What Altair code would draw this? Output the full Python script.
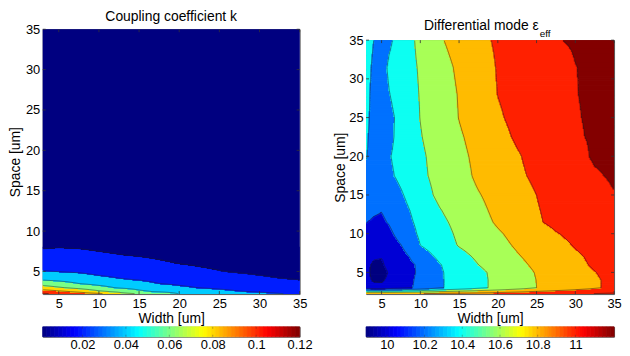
import numpy as np
import pandas as pd
import altair as alt

FONT = "Liberation Sans"

# ---------------- Left panel: coupling coefficient k (one list per width) ----
K_SPACE = [2.2, 2.5, 3, 3.5, 4, 5, 6, 7, 8, 10, 15, 20, 25, 30, 35]
K_WIDTH = [3, 5, 7.5, 10, 12.5, 15, 17.5, 20, 22.5, 25, 27.5, 30, 32.5, 35]
k_w03_0 = [0.125, 0.111, 0.089, 0.072, 0.058, 0.041, 0.031, 0.024, 0.019, 0.012, 0.005, 0.003, 0.0022, 0.0019, 0.0017]
k_w05_0 = [0.1195, 0.105, 0.082, 0.067, 0.056, 0.0395, 0.031, 0.0245, 0.0197, 0.013, 0.0052, 0.003, 0.0022, 0.0019, 0.0017]
k_w07_5 = [0.1125, 0.097, 0.0743, 0.060, 0.053, 0.0375, 0.0295, 0.0235, 0.0193, 0.0125, 0.005, 0.003, 0.0022, 0.0019, 0.0017]
k_w10_0 = [0.108, 0.084, 0.066, 0.055, 0.046, 0.034, 0.0275, 0.022, 0.018, 0.0118, 0.0048, 0.0029, 0.0022, 0.0019, 0.0017]
k_w12_5 = [0.088, 0.077, 0.058, 0.051, 0.0415, 0.0325, 0.026, 0.0205, 0.0168, 0.011, 0.0046, 0.0028, 0.0022, 0.0019, 0.0017]
k_w15_0 = [0.082, 0.064, 0.054, 0.046, 0.039, 0.031, 0.0245, 0.0193, 0.0158, 0.0104, 0.0044, 0.0027, 0.0021, 0.0019, 0.0017]
k_w17_5 = [0.078, 0.058, 0.049, 0.040, 0.035, 0.028, 0.022, 0.0178, 0.0147, 0.0098, 0.0042, 0.0026, 0.0021, 0.0018, 0.0017]
k_w20_0 = [0.0605, 0.053, 0.0435, 0.037, 0.0325, 0.026, 0.0198, 0.0163, 0.0136, 0.0092, 0.0040, 0.0025, 0.0020, 0.0018, 0.0017]
k_w22_5 = [0.056, 0.049, 0.0395, 0.034, 0.030, 0.0228, 0.0182, 0.0151, 0.0127, 0.0087, 0.0038, 0.0024, 0.0020, 0.0018, 0.0017]
k_w25_0 = [0.052, 0.045, 0.037, 0.032, 0.0275, 0.0205, 0.017, 0.0141, 0.0119, 0.0082, 0.0036, 0.0023, 0.0019, 0.0018, 0.0017]
k_w27_5 = [0.048, 0.041, 0.0345, 0.030, 0.0255, 0.0188, 0.016, 0.0133, 0.0113, 0.0078, 0.0034, 0.0022, 0.0019, 0.0018, 0.0017]
k_w30_0 = [0.045, 0.0385, 0.0325, 0.0275, 0.0225, 0.0178, 0.0151, 0.0126, 0.0107, 0.0074, 0.0033, 0.0022, 0.0019, 0.0018, 0.0017]
k_w32_5 = [0.0415, 0.036, 0.0305, 0.025, 0.0208, 0.0168, 0.0143, 0.012, 0.0102, 0.0071, 0.0032, 0.0021, 0.0019, 0.0018, 0.0017]
k_w35_0 = [0.0395, 0.034, 0.0285, 0.0235, 0.0198, 0.0158, 0.0135, 0.0114, 0.0097, 0.0068, 0.0031, 0.0021, 0.0019, 0.0018, 0.0017]
K_LEVELS = [0.02, 0.04, 0.06, 0.08, 0.1, 0.12]
K_CLIM = [0.0017, 0.12]
K_TICKS = [0.02, 0.04, 0.06, 0.08, 0.1, 0.12]

# ---------------- Right panel: differential mode eps_eff (one list per space) -
EPS_WIDTH = [3, 4, 5, 6, 7.5, 10, 12.5, 15, 17.5, 20, 22.5, 25, 27.5, 30, 32.5, 35]
EPS_SPACE = [2.2, 3, 4, 5, 6, 7, 8.5, 10, 11.5, 13, 15, 17.5, 20, 22.5, 25, 28, 31.5, 35]
eps_s02_2 = [11.03, 11.03, 11.04, 11.04, 11.05, 11.06, 11.08, 11.09, 11.11, 11.12, 11.14, 11.16, 11.18, 11.20, 11.22, 11.24]
eps_s03_0 = [10.10, 10.08, 10.07, 10.10, 10.14, 10.24, 10.38, 10.47, 10.56, 10.64, 10.72, 10.80, 10.86, 10.92, 10.98, 11.04]
eps_s04_0 = [10.06, 9.98, 9.97, 10.06, 10.12, 10.24, 10.38, 10.47, 10.56, 10.64, 10.72, 10.802, 10.86, 10.92, 10.98, 11.04]
eps_s05_0 = [10.07, 9.93, 9.89, 10.03, 10.11, 10.23, 10.38, 10.475, 10.56, 10.65, 10.73, 10.81, 10.87, 10.93, 10.995, 11.05]
eps_s06_0 = [10.05, 9.97, 9.96, 10.09, 10.12, 10.23, 10.39, 10.50, 10.60, 10.68, 10.76, 10.83, 10.90, 10.96, 11.02, 11.06]
eps_s07_0 = [10.08, 10.02, 10.01, 10.06, 10.13, 10.29, 10.44, 10.54, 10.63, 10.71, 10.785, 10.85, 10.91, 10.975, 11.03, 11.07]
eps_s08_5 = [10.10, 10.07, 10.05, 10.11, 10.195, 10.40, 10.51, 10.61, 10.68, 10.75, 10.82, 10.88, 10.95, 11.01, 11.06, 11.10]
eps_s10_0 = [10.13, 10.11, 10.10, 10.16, 10.27, 10.43, 10.53, 10.63, 10.71, 10.78, 10.85, 10.91, 10.99, 11.04, 11.09, 11.13]
eps_s11_5 = [10.205, 10.18, 10.17, 10.215, 10.32, 10.445, 10.56, 10.65, 10.74, 10.82, 10.90, 10.98, 11.04, 11.08, 11.12, 11.16]
eps_s13_0 = [10.24, 10.22, 10.205, 10.25, 10.34, 10.47, 10.59, 10.68, 10.76, 10.84, 10.92, 10.99, 11.04, 11.08, 11.13, 11.17]
eps_s15_0 = [10.30, 10.28, 10.27, 10.30, 10.38, 10.52, 10.64, 10.72, 10.79, 10.86, 10.93, 11.00, 11.05, 11.10, 11.15, 11.195]
eps_s17_5 = [10.37, 10.33, 10.31, 10.37, 10.44, 10.56, 10.66, 10.74, 10.83, 10.90, 10.97, 11.03, 11.08, 11.13, 11.185, 11.215]
eps_s20_0 = [10.41, 10.34, 10.31, 10.39, 10.46, 10.57, 10.67, 10.76, 10.84, 10.91, 10.985, 11.05, 11.10, 11.16, 11.215, 11.23]
eps_s22_5 = [10.42, 10.35, 10.31, 10.36, 10.46, 10.59, 10.69, 10.78, 10.86, 10.95, 11.02, 11.07, 11.12, 11.19, 11.21, 11.22]
eps_s25_0 = [10.43, 10.36, 10.32, 10.36, 10.45, 10.604, 10.70, 10.804, 10.89, 10.98, 11.04, 11.09, 11.14, 11.195, 11.21, 11.22]
eps_s28_0 = [10.43, 10.37, 10.33, 10.395, 10.48, 10.61, 10.71, 10.81, 10.91, 11.002, 11.05, 11.10, 11.15, 11.198, 11.21, 11.22]
eps_s31_5 = [10.44, 10.38, 10.33, 10.43, 10.50, 10.62, 10.73, 10.83, 10.92, 11.01, 11.06, 11.10, 11.15, 11.198, 11.215, 11.225]
eps_s35_0 = [10.45, 10.40, 10.30, 10.37, 10.48, 10.65, 10.78, 10.87, 10.96, 11.02, 11.08, 11.13, 11.195, 11.21, 11.22, 11.23]
EPS_LEVELS = [10.0, 10.2, 10.4, 10.6, 10.8, 11.0, 11.2]
EPS_CLIM = [9.89, 11.205]
EPS_TICKS = [10, 10.2, 10.4, 10.6, 10.8, 11]

AXIS_TICKS = [5, 10, 15, 20, 25, 30, 35]
X_DOMAIN = [3, 35]
Y_DOMAIN = [2.2, 35]
TICK_COLOR = "#333333"


def jet(t):
    t = float(np.clip(t, 0, 1))
    r = np.clip(min(4 * t - 1.5, -4 * t + 4.5), 0, 1)
    g = np.clip(min(4 * t - 0.5, -4 * t + 3.5), 0, 1)
    b = np.clip(min(4 * t + 0.5, -4 * t + 2.5), 0, 1)
    return "#%02x%02x%02x" % (int(round(r * 255)), int(round(g * 255)), int(round(b * 255)))


def surface(grid, ws, ss, nx, ny):
    """Bilinear surface of the read grid on a pixel raster (what contourf does)."""
    xe = np.linspace(X_DOMAIN[0], X_DOMAIN[1], nx + 1)
    ye = np.linspace(Y_DOMAIN[0], Y_DOMAIN[1], ny + 1)
    xc = (xe[:-1] + xe[1:]) / 2
    yc = (ye[:-1] + ye[1:]) / 2
    a = np.array([np.interp(xc, ws, row) for row in grid])
    z = np.array([np.interp(yc, ss, a[:, i]) for i in range(nx)]).T
    return xe, ye, xc, yc, z


def fill_runs(xe, ye, band):
    recs = []
    prev_sig = None
    open_recs = []
    for j in range(band.shape[0]):
        row = band[j]
        cuts = np.nonzero(np.diff(row))[0] + 1
        starts = np.concatenate([[0], cuts])
        ends = np.concatenate([cuts, [len(row)]])
        sig = tuple((int(a), int(b), int(row[a])) for a, b in zip(starts, ends))
        if sig == prev_sig:
            for r in open_recs:
                r["y2"] = ye[j + 1]
            continue
        open_recs = [{"x": xe[a], "x2": xe[b], "y": ye[j], "y2": ye[j + 1], "band": c} for a, b, c in sig]
        recs.extend(open_recs)
        prev_sig = sig
    return pd.DataFrame(recs)


def contour_lines(xc, yc, z, levels):
    out = []
    cid = 0
    ny, nx = z.shape
    for lev in levels:
        d = z - lev
        s = d >= 0
        pts = {}
        hj, hi = np.nonzero(s[:, :-1] != s[:, 1:])
        for j, i in zip(hj, hi):
            t = d[j, i] / (d[j, i] - d[j, i + 1])
            pts[("h", j, i)] = (xc[i] + t * (xc[i + 1] - xc[i]), yc[j])
        vj, vi = np.nonzero(s[:-1, :] != s[1:, :])
        for j, i in zip(vj, vi):
            t = d[j, i] / (d[j, i] - d[j + 1, i])
            pts[("v", j, i)] = (xc[i], yc[j] + t * (yc[j + 1] - yc[j]))
        cells = set()
        for typ, j, i in pts:
            if typ == "h":
                for cj in (j - 1, j):
                    if 0 <= cj < ny - 1:
                        cells.add((cj, i))
            else:
                for ci in (i - 1, i):
                    if 0 <= ci < nx - 1:
                        cells.add((j, ci))
        adj = {}
        for j, i in cells:
            edges = [("h", j, i), ("h", j + 1, i), ("v", j, i), ("v", j, i + 1)]
            pres = [e for e in edges if e in pts]
            if len(pres) == 2:
                pairs = [(pres[0], pres[1])]
            elif len(pres) == 4:
                pairs = [(pres[0], pres[2]), (pres[1], pres[3])]
            else:
                continue
            for a, b in pairs:
                adj.setdefault(a, []).append(b)
                adj.setdefault(b, []).append(a)
        visited = set()
        order = [k for k in adj if len(adj[k]) == 1] + list(adj)
        for start in order:
            if start in visited:
                continue
            chain = [start]
            visited.add(start)
            cur = start
            while True:
                nxt = [n for n in adj[cur] if n not in visited]
                if not nxt:
                    break
                cur = nxt[0]
                chain.append(cur)
                visited.add(cur)
            if len(chain) > 2 and start in adj[cur]:
                chain.append(start)
            for k, e in enumerate(chain):
                out.append({"x": pts[e][0], "y": pts[e][1], "cid": cid, "k": k})
            cid += 1
    return pd.DataFrame(out)


def text_layer(txt, px, py, size, align):
    return alt.Chart(pd.DataFrame({"t": [txt]})).mark_text(
        font=FONT, fontSize=size, align=align, baseline="middle", color="black"
    ).encode(text="t:N", x=alt.value(px), y=alt.value(py))


def panel(grid, ws, ss, levels, clim, width, height, ytitle_pad, titles):
    xe, ye, xc, yc, z = surface(grid, ws, ss, width, height)
    band = np.searchsorted(levels, z, side="right")
    colors = [jet(0)] + [jet((lv - clim[0]) / (clim[1] - clim[0])) for lv in levels]
    rect_df = fill_runs(xe, ye, band)
    line_df = contour_lines(xc, yc, z, levels)
    cscale = alt.Scale(domain=list(range(len(colors))), range=colors)
    xenc = alt.X("x:Q", scale=alt.Scale(domain=X_DOMAIN, nice=False, zero=False),
                 axis=alt.Axis(values=AXIS_TICKS, title="Width [um]", labelFlush=False,
                               labelPadding=4, titlePadding=1))
    yenc = alt.Y("y:Q", scale=alt.Scale(domain=Y_DOMAIN, nice=False, zero=False),
                 axis=alt.Axis(values=AXIS_TICKS, title="Space [um]", labelFlush=False,
                               labelPadding=3, titlePadding=ytitle_pad))
    fill = alt.Chart(rect_df).mark_rect(strokeWidth=1.2, clip=True).encode(
        x=xenc, x2="x2:Q", y=yenc, y2="y2:Q",
        color=alt.Color("band:O", scale=cscale, legend=None),
        stroke=alt.Stroke("band:O", scale=cscale, legend=None),
    )
    lines = alt.Chart(line_df).mark_line(color="#202020", strokeWidth=0.6, opacity=0.8).encode(
        x=xenc, y=yenc, detail="cid:N", order="k:Q"
    )
    xt = pd.DataFrame({"x": AXIS_TICKS})
    yt = pd.DataFrame({"y": AXIS_TICKS})
    tick = dict(color=TICK_COLOR, strokeWidth=0.8)
    ticks = [
        alt.Chart(xt).mark_rule(**tick).encode(x=xenc, y=alt.value(height), y2=alt.value(height - 3)),
        alt.Chart(xt).mark_rule(**tick).encode(x=xenc, y=alt.value(0), y2=alt.value(3)),
        alt.Chart(yt).mark_rule(**tick).encode(y=yenc, x=alt.value(0), x2=alt.value(3)),
        alt.Chart(yt).mark_rule(**tick).encode(y=yenc, x=alt.value(width), x2=alt.value(width - 3)),
    ]
    layers = [fill, lines] + ticks + [text_layer(*t) for t in titles]
    return alt.layer(*layers).properties(width=width, height=height)


def colorbar(clim, ticks, width):
    edges = np.linspace(clim[0], clim[1], 65)
    cb = pd.DataFrame({"v0": edges[:-1], "v1": edges[1:], "c": [jet((i + 0.5) / 64) for i in range(64)]})
    xenc = alt.X("v0:Q", scale=alt.Scale(domain=clim, nice=False, zero=False),
                 axis=alt.Axis(values=ticks, format=".3~g", title=None, labelPadding=2, labelFlush=False))
    bar = alt.Chart(cb).mark_rect(strokeWidth=0.8).encode(
        x=xenc, x2="v1:Q",
        color=alt.Color("c:N", scale=None),
        stroke=alt.Stroke("c:N", scale=None),
    )
    td = pd.DataFrame({"v0": ticks})
    t_bot = alt.Chart(td).mark_rule(color=TICK_COLOR, strokeWidth=0.6, opacity=0.6).encode(
        x=xenc, y=alt.value(10), y2=alt.value(8))
    t_top = alt.Chart(td).mark_rule(color=TICK_COLOR, strokeWidth=0.6, opacity=0.6).encode(
        x=xenc, y=alt.value(0), y2=alt.value(2))
    return alt.layer(bar, t_bot, t_top).properties(width=width, height=10)


k_grid = np.array([k_w03_0, k_w05_0, k_w07_5, k_w10_0, k_w12_5, k_w15_0, k_w17_5,
                   k_w20_0, k_w22_5, k_w25_0, k_w27_5, k_w30_0, k_w32_5, k_w35_0]).T
eps_grid = np.array([eps_s02_2, eps_s03_0, eps_s04_0, eps_s05_0, eps_s06_0, eps_s07_0, eps_s08_5,
                     eps_s10_0, eps_s11_5, eps_s13_0, eps_s15_0, eps_s17_5, eps_s20_0, eps_s22_5,
                     eps_s25_0, eps_s28_0, eps_s31_5, eps_s35_0])

left_panel = panel(k_grid, K_WIDTH, K_SPACE, K_LEVELS, K_CLIM, 259, 267, 3,
                   [("Coupling coefficient k", 129.5, -12, 14, "center")])
right_panel = panel(eps_grid, EPS_WIDTH, EPS_SPACE, EPS_LEVELS, EPS_CLIM, 250, 256, 1, [])

# title strip above the right panel (carries the subscripted title)
right_title = alt.layer(
    text_layer("Differential mode \u03b5", 174, -3, 14, "right"),
    text_layer("eff", 175, 4.5, 10, "left"),
).properties(width=250, height=1, view=alt.ViewBackground(stroke="transparent"))

left = alt.vconcat(left_panel, colorbar(K_CLIM, K_TICKS, 259), spacing=-2)
right_inner = alt.vconcat(right_panel, colorbar(EPS_CLIM, EPS_TICKS, 250), spacing=-3)
right = alt.vconcat(right_title, right_inner, spacing=-6)

chart = alt.hconcat(left, right, spacing=20).resolve_scale(
    color="independent", stroke="independent"
).properties(padding=0).configure_view(stroke="#555555", strokeWidth=1).configure_axis(
    labelFont=FONT, labelFontSize=13, labelColor="black",
    titleFont=FONT, titleFontSize=14, titleFontWeight="normal", titleColor="black",
    ticks=False, domain=False, grid=False,
)

chart.save("out.html", embed_options={"renderer": "svg", "actions": False})
